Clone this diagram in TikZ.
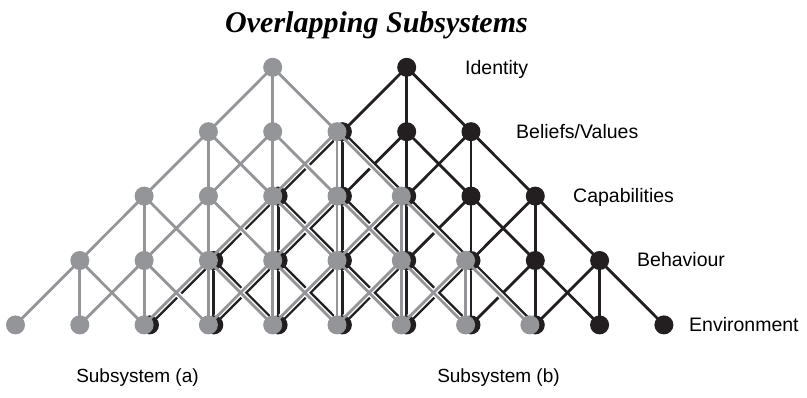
\documentclass[tikz,border=0pt]{standalone}
\usepackage{fontspec}
\newfontfamily\labelfont{Liberation Sans}
\newfontfamily\titlefont{Liberation Serif}
\definecolor{subgrey}{HTML}{939598}
\definecolor{subblack}{HTML}{231F20}
\pgfdeclarelayer{bedge}
\pgfdeclarelayer{gcase}
\pgfdeclarelayer{bnode}
\pgfdeclarelayer{gedge}
\pgfsetlayers{bedge,gcase,bnode,gedge,main}
\begin{document}
\begin{tikzpicture}[x=1pt,y=-1pt,
  gdot/.style={circle,fill=subgrey,inner sep=0pt,minimum size=19pt},
  bdot/.style={circle,fill=subblack,inner sep=0pt,minimum size=19pt},
  gline/.style={draw=subgrey,line width=2.8pt},
  gcasing/.style={draw=white,line width=5.6pt},
  bline/.style={draw=subblack,line width=2.8pt},
  level/.style={font=\labelfont\fontsize{19.5}{22}\selectfont,anchor=base west,inner sep=0pt},
  caption/.style={font=\labelfont\fontsize{19}{22}\selectfont,anchor=base,inner sep=0pt},
  heading/.style={font=\titlefont\bfseries\itshape\fontsize{30}{34}\selectfont,anchor=base,inner sep=0pt}]
\useasboundingbox (0,0) rectangle (807,398);

% lattice nodes: row r holds 2r+1 dots
\foreach \r in {0,...,4}{
  \pgfmathtruncatemacro\n{2*\r}
  \foreach \c in {0,...,\n}{
    \begin{pgfonlayer}{bnode}
      \node[bdot] (b-\r-\c) at ({406.7+(\c-\r)*64.3},{67.3+\r*64.4}) {};
    \end{pgfonlayer}
    \node[gdot] (g-\r-\c) at ({272.7+(\c-\r)*64.3},{67.3+\r*64.4}) {};
  }
}

% each dot links to the three dots below it
\foreach \r in {0,...,3}{
  \pgfmathtruncatemacro\n{2*\r}
  \pgfmathtruncatemacro\rr{\r+1}
  \foreach \c in {0,...,\n}{
    \foreach \d in {0,1,2}{
      \pgfmathtruncatemacro\cc{\c+\d}
      \begin{pgfonlayer}{bedge}
        \draw[bline] (b-\r-\c.center) -- (b-\rr-\cc.center);
      \end{pgfonlayer}
      \begin{pgfonlayer}{gcase}
        \draw[gcasing] (g-\r-\c.center) -- (g-\rr-\cc.center);
      \end{pgfonlayer}
      \begin{pgfonlayer}{gedge}
        \draw[gline] (g-\r-\c.center) -- (g-\rr-\cc.center);
      \end{pgfonlayer}
    }
  }
}

% level names
\node[level] (identity) at (465,74.3) {Identity};
\node[level] (beliefs) at (516,139) {Beliefs/Values};
\node[level] (capab) at (573,203) {Capabilities};
\node[level] (behav) at (637,267) {Behaviour};
\node[level] (envir) at (689,332) {Environment};

% captions
\node[caption] (suba) at (137.5,383) {Subsystem (a)};
\node[caption] (subb) at (498.5,383) {Subsystem (b)};

\node[heading] (title) at (376.5,33) {Overlapping Subsystems};
\end{tikzpicture}
\end{document}
